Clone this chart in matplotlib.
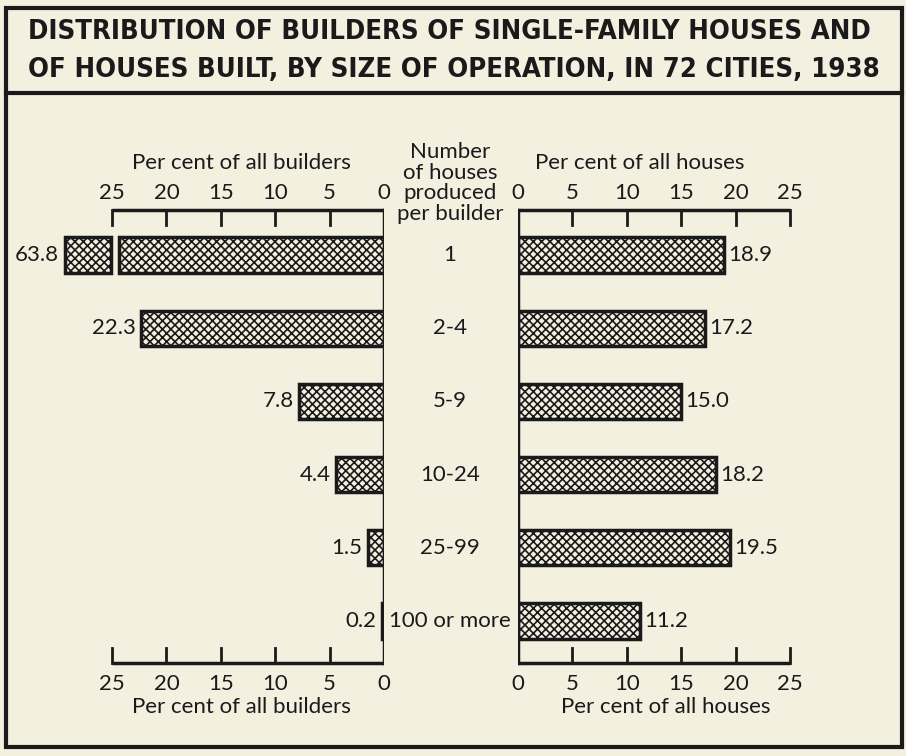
import matplotlib
matplotlib.use('Agg')
import matplotlib.pyplot as plt
from matplotlib.patches import Rectangle
from matplotlib.font_manager import FontProperties, findfont

# data
categories = ['1', '2-4', '5-9', '10-24', '25-99', '100 or more']
builders_pct = [63.8, 22.3, 7.8, 4.4, 1.5, 0.2]
houses_pct = [18.9, 17.2, 15.0, 18.2, 19.5, 11.2]
ticks = [0, 5, 10, 15, 20, 25]

title_lines = ['DISTRIBUTION OF BUILDERS OF SINGLE-FAMILY HOUSES AND',
               'OF HOUSES BUILT, BY SIZE OF OPERATION, IN 72 CITIES, 1938']

BG = '#f3f0e0'
INK = '#1a1a1a'
FONT = ['Lato', 'DejaVu Sans']
AXMAX = 25
BAR_H = 0.48
Y_TOP, Y_BOT = -0.615, 5.57
FS = 16

plt.rcParams['hatch.linewidth'] = 1.2
plt.rcParams['hatch.color'] = INK

W, H = 906, 756
fig = plt.figure(figsize=(W / 100, H / 100), dpi=100)
fig.patch.set_facecolor(BG)


def px_axes(x0, x1, y0, y1):
    return fig.add_axes([x0 / W, 1 - y1 / H, (x1 - x0) / W, (y1 - y0) / H])


# frame and title
fig.add_artist(Rectangle((6 / W, 1 - 747 / H), 896 / W, 739 / H, transform=fig.transFigure,
                         fill=False, lw=3, ec=INK))
fig.add_artist(plt.Line2D([6 / W, 902 / W], [1 - 93 / H] * 2, transform=fig.transFigure,
                          lw=3, color=INK))

# title in a condensed bold face if there is one, else fitted to the width
cond = FontProperties(family='DejaVu Sans', weight='bold', stretch='condensed')
if 'Condensed' in findfont(cond):
    tkw = dict(fontproperties=cond)
else:
    tkw = dict(family=['Liberation Sans', 'DejaVu Sans'], fontweight='bold')
renderer = fig.canvas.get_renderer()
titles = []
for line, base in zip(title_lines, [32, 70]):
    t = fig.text(28 / W, 1 - base / H, line, ha='left', va='center', color=INK, **tkw)
    t.set_fontsize(24)
    titles.append(t)
widest = max(t.get_window_extent(renderer).width for t in titles)
for t in titles:
    t.set_fontsize(24 * 852 / widest)

y0, y1 = 150, 720
ymap = lambda p: (p - 255) / 73.2
ax_l = px_axes(20, 384, y0, y1)
ax_r = px_axes(518, 900, y0, y1)
ax_l.set_xlim((384 - 20) / 10.88, 0)
ax_r.set_xlim(0, (900 - 518) / 10.88)
for ax in (ax_l, ax_r):
    ax.set_ylim(ymap(y1), ymap(y0))
    ax.axis('off')
    ax.set_facecolor('none')
    # scales top and bottom
    ax.plot([0, AXMAX], [Y_TOP] * 2, color=INK, lw=2.5, solid_capstyle='butt')
    ax.plot([0, AXMAX], [Y_BOT] * 2, color=INK, lw=2.5, solid_capstyle='butt')
    ax.plot([0, 0], [Y_TOP, Y_BOT], color=INK, lw=2.5)
    for t in ticks:
        ax.plot([t, t], [Y_TOP, Y_TOP + 0.2], color=INK, lw=2)
        ax.plot([t, t], [Y_BOT, Y_BOT - 0.2], color=INK, lw=2)
        ax.text(t, ymap(193), str(t), ha='center', va='center', fontsize=FS, family=FONT, color=INK)
        ax.text(t, ymap(684), str(t), ha='center', va='center', fontsize=FS, family=FONT, color=INK)

ax_l.text(13.1, ymap(163), 'Per cent of all builders', ha='center', va='center',
          fontsize=FS, family=FONT, color=INK)
ax_l.text(13.1, ymap(707), 'Per cent of all builders', ha='center', va='center',
          fontsize=FS, family=FONT, color=INK)
ax_r.text(11.2, ymap(163), 'Per cent of all houses', ha='center', va='center',
          fontsize=FS, family=FONT, color=INK)
ax_r.text(13.6, ymap(707), 'Per cent of all houses', ha='center', va='center',
          fontsize=FS, family=FONT, color=INK)

bar_kw = dict(height=BAR_H, color=BG, edgecolor=INK, lw=2.5, hatch='xxxx')
for i, (cat, b, h) in enumerate(zip(categories, builders_pct, houses_pct)):
    if b > AXMAX:
        # broken bar: draw up to the scale end, then a short stub past it
        ax_l.barh(i, AXMAX - 0.6, left=0, **bar_kw)
        ax_l.barh(i, 4.2, left=AXMAX + 0.1, **bar_kw)
        ax_l.text(AXMAX + 4.9, i, f'{b:.1f}', ha='right', va='center', fontsize=FS,
                  family=FONT, color=INK)
    else:
        ax_l.barh(i, b, left=0, **bar_kw)
        ax_l.text(b + 0.5, i, f'{b:.1f}', ha='right', va='center', fontsize=FS,
                  family=FONT, color=INK)
    ax_r.barh(i, h, left=0, **bar_kw)
    ax_r.text(h + 0.4, i, f'{h:.1f}', ha='left', va='center', fontsize=FS,
              family=FONT, color=INK)
    fig.text(450 / W, 1 - (255 + 73.2 * i) / H, cat, ha='center', va='center', fontsize=FS,
             family=FONT, color=INK)

fig.text(450 / W, 1 - 183 / H, 'Number\nof houses\nproduced\nper builder', ha='center',
         va='center', fontsize=FS, family=FONT, color=INK, linespacing=1.05)

fig.savefig('out.png', dpi=100, facecolor=BG)
